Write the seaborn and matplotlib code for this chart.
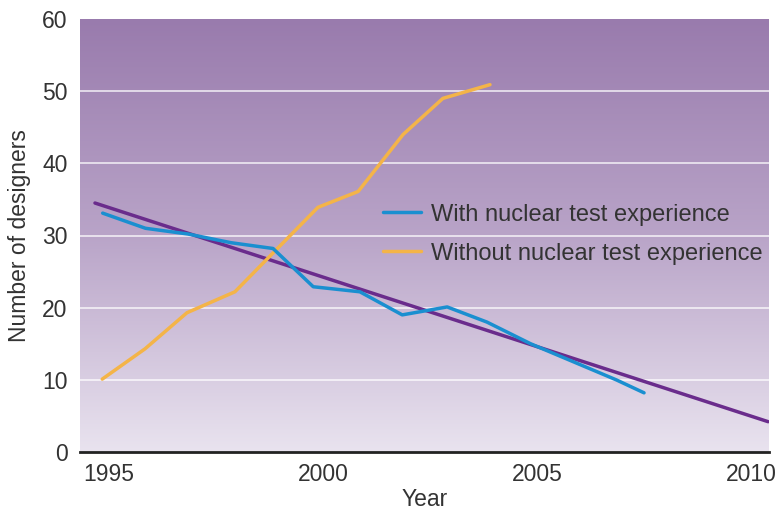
import matplotlib
matplotlib.use("Agg")
import matplotlib.pyplot as plt
import numpy as np
import pandas as pd
import seaborn as sns
from matplotlib.colors import LinearSegmentedColormap

# values
years_with = [1994.85, 1995.85, 1996.85, 1997.85, 1998.83, 1999.77, 2000.86,
              2001.85, 2002.9, 2003.83, 2004.85, 2005.85, 2006.85, 2007.5]
with_exp = [33.1, 31.0, 30.2, 29.0, 28.2, 22.9, 22.2,
            19.0, 20.1, 18.0, 15.0, 12.5, 10.0, 8.2]
years_without = [1994.84, 1995.84, 1996.82, 1997.94, 1998.9, 1999.88,
                 2000.82, 2001.87, 2002.8, 2003.9]
without_exp = [10.1, 14.3, 19.3, 22.2, 28.0, 33.9, 36.1, 44.0, 49.0, 50.9]
trend_years = [1994.67, 2010.4]
trend_vals = [34.5, 4.2]

df_with = pd.DataFrame({"Year": years_with, "n": with_exp})
df_without = pd.DataFrame({"Year": years_without, "n": without_exp})
df_trend = pd.DataFrame({"Year": trend_years, "n": trend_vals})

sns.set_style("white")
plt.rcParams["font.family"] = ["Liberation Sans", "DejaVu Sans"]

fig, ax = plt.subplots(figsize=(7.78, 5.16), dpi=100)
fig.subplots_adjust(left=80 / 778, right=769 / 778, top=1 - 19 / 516, bottom=1 - 452 / 516)

x0, x1 = 1994.32, 2010.42
ax.set_xlim(x0, x1)
ax.set_ylim(0, 60)

# gradient background
cmap = LinearSegmentedColormap.from_list("bg", ["#e9e3ef", "#b9a4c8", "#997bad"])
grad = np.linspace(0, 1, 256).reshape(-1, 1)
ax.imshow(grad, extent=[x0, x1, 0, 60], origin="lower", aspect="auto",
          cmap=cmap, zorder=0)

for yv in [10, 20, 30, 40, 50]:
    ax.axhline(yv, color="white", lw=1.2, alpha=0.8, zorder=1)

sns.lineplot(data=df_trend, x="Year", y="n", ax=ax, color="#6a2c8c", lw=2.5,
             zorder=3)
sns.lineplot(data=df_without, x="Year", y="n", ax=ax, color="#f4b448", lw=2.5,
             label="Without nuclear test experience", zorder=4)
sns.lineplot(data=df_with, x="Year", y="n", ax=ax, color="#1a8fd0", lw=2.5,
             label="With nuclear test experience", zorder=5)

h, l = ax.get_legend_handles_labels()
ax.legend(h[::-1], l[::-1], loc="center left", bbox_to_anchor=(0.44, 0.503),
          frameon=False, fontsize=17, handlelength=1.6, handletextpad=0.42,
          labelspacing=0.72, borderpad=0, borderaxespad=0, labelcolor="#333333")

for s in ["top", "right", "left"]:
    ax.spines[s].set_visible(False)
ax.spines["bottom"].set_color("#222222")
ax.spines["bottom"].set_linewidth(2)

ax.set_xticks([1995, 2000, 2005, 2010])
ax.set_yticks([0, 10, 20, 30, 40, 50, 60])
ax.tick_params(axis="x", direction="in", length=13, width=1.2, color="#222222",
               pad=8, labelsize=16.5, labelcolor="#333333")
ax.tick_params(axis="y", length=0, pad=9, labelsize=16.5, labelcolor="#333333")
ax.set_xlabel("Year", fontsize=16.5, color="#333333", labelpad=1)
ax.set_ylabel("Number of designers", fontsize=16.5, color="#333333", labelpad=8)

fig.savefig("out.png", dpi=100)
